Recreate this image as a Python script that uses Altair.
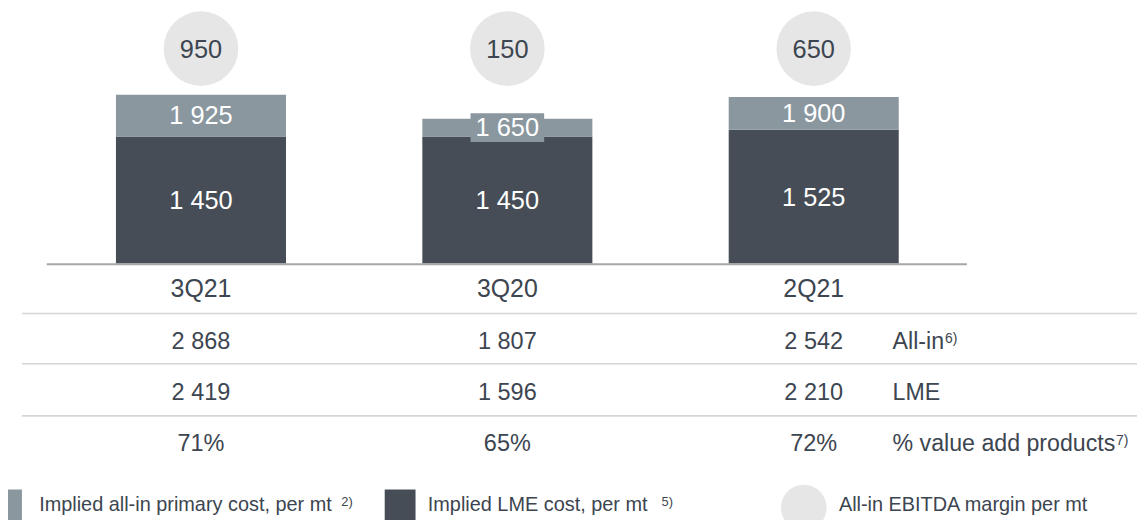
import altair as alt
import pandas as pd

# ---------------- data ----------------
categories = ["3Q21", "3Q20", "2Q21"]
lme_cost = [1450, 1450, 1525]          # Implied LME cost, per mt
allin_cost = [1925, 1650, 1900]        # Implied all-in primary cost, per mt
ebitda_margin = [950, 150, 650]        # All-in EBITDA margin per mt
allin_price = [2868, 1807, 2542]       # All-in
lme_price = [2419, 1596, 2210]         # LME
value_add_share = [71, 65, 72]         # % value add products
row_labels = ["All-in", "LME", "% value add products"]
row_notes = ["6)", "", "7)"]
legend_labels = ["Implied all-in primary cost, per mt",
                 "Implied LME cost, per mt",
                 "All-in EBITDA margin per mt"]
legend_notes = ["2)", "5)", ""]
unit_title = "USD/mt"

# ---------------- styles ----------------
DARK = "#464d56"
LIGHT = "#8a979f"
CIRCLE = "#e6e6e6"
TEXT = "#3c4550"
RULE = "#a6a6a6"
GRID = "#d6d6d6"
FONT = "Liberation Sans"


def fmt(v):
    return f"{v:,}".replace(",", " ")


df = pd.DataFrame({
    "cat": categories,
    "lme": lme_cost,
    "allin": allin_cost,
    "margin": ebitda_margin,
})
df["lme_lbl"] = [fmt(v) for v in lme_cost]
df["allin_lbl"] = [fmt(v) for v in allin_cost]
df["margin_lbl"] = [fmt(v) for v in ebitda_margin]
df["row0"] = [fmt(v) for v in allin_price]
df["row1"] = [fmt(v) for v in lme_price]
df["row2"] = [f"{v}%" for v in value_add_share]

X = alt.X("cat:N", sort=categories, axis=None,
          scale=alt.Scale(domain=categories, range=[40, 964],
                          paddingInner=0.445, paddingOuter=0.2225))
yscale = alt.Scale(domain=[0, 1450], range=[255.5, 127.7], nice=False, zero=True)

base = alt.Chart(df)
one = alt.Data(values=[{"k": 1}])

layers = []

# bars
layers.append(base.mark_bar(color=DARK).encode(
    x=X, y=alt.Y("lme:Q", scale=yscale, axis=None)))
layers.append(base.mark_bar(color=LIGHT).encode(
    x=X, y=alt.Y("lme:Q", scale=yscale, axis=None), y2="allin:Q"))

# label background boxes for the all-in cost labels
layers.append(base.transform_calculate(mid="(datum.lme + datum.allin) / 2").mark_point(
    shape="M-1,-0.392L1,-0.392L1,0.392L-1,0.392Z", size=5476, filled=True,
    fill=LIGHT, opacity=1, strokeWidth=0).encode(
    x=X, y=alt.Y("mid:Q", scale=yscale, axis=None)))

# bar labels
layers.append(base.transform_calculate(mid="(datum.lme + datum.allin) / 2").mark_text(
    font=FONT, fontSize=25.5, color="white", baseline="middle", dy=0.5).encode(
    x=X, y=alt.Y("mid:Q", scale=yscale, axis=None), text="allin_lbl:N"))
layers.append(base.transform_calculate(mid="datum.lme / 2").mark_text(
    font=FONT, fontSize=25.5, color="white", baseline="middle", dy=1).encode(
    x=X, y=alt.Y("mid:Q", scale=yscale, axis=None), text="lme_lbl:N"))

# baseline
layers.append(alt.Chart(one).mark_rule(color=RULE, strokeWidth=2).encode(
    x=alt.value(39), x2=alt.value(964), y=alt.value(256.3)))

# margin circles
layers.append(base.mark_circle(size=5625, color=CIRCLE, opacity=1).encode(
    x=X, y=alt.value(39.5)))
layers.append(base.mark_text(font=FONT, fontSize=25.5, color=TEXT, baseline="alphabetic").encode(
    x=X, y=alt.value(49.2), text="margin_lbl:N"))

# table separators
for yy in [305.7, 356.3, 408.7]:
    layers.append(alt.Chart(one).mark_rule(color=GRID, strokeWidth=1.6).encode(
        x=alt.value(14), x2=alt.value(1137), y=alt.value(yy)))

# table: period labels and rows
layers.append(base.mark_text(font=FONT, fontSize=25, color=TEXT, baseline="alphabetic").encode(
    x=X, y=alt.value(288.7), text="cat:N"))
row_y = [341.3, 392.5, 444.0]
for i, yy in enumerate(row_y):
    layers.append(base.mark_text(font=FONT, fontSize=23.6, color=TEXT, baseline="alphabetic").encode(
        x=X, y=alt.value(yy), text=f"row{i}:N"))
    layers.append(alt.Chart(alt.Data(values=[{"t": row_labels[i]}])).mark_text(
        font=FONT, fontSize=23.3, color=TEXT, baseline="alphabetic", align="left").encode(
        x=alt.value(889.3), y=alt.value(yy), text="t:N"))
note_x = [942, None, 1114]
for i, nx in enumerate(note_x):
    if row_notes[i]:
        layers.append(alt.Chart(alt.Data(values=[{"t": row_notes[i]}])).mark_text(
            font=FONT, fontSize=14, color=TEXT, baseline="alphabetic", align="left").encode(
            x=alt.value(nx), y=alt.value(row_y[i] - 6.3), text="t:N"))

# legend
layers.append(alt.Chart(one).mark_rect(color=LIGHT).encode(
    x=alt.value(-3), x2=alt.value(14), y=alt.value(482.7), y2=alt.value(514)))
layers.append(alt.Chart(one).mark_rect(color=DARK).encode(
    x=alt.value(378.7), x2=alt.value(409.7), y=alt.value(482.7), y2=alt.value(514)))
layers.append(alt.Chart(one).mark_circle(size=2116, color=CIRCLE, opacity=1).encode(
    x=alt.value(800), y=alt.value(501)))
leg_x = [31.3, 422, 835.3]
leg_note_x = [335, 657, None]
for i in range(3):
    layers.append(alt.Chart(alt.Data(values=[{"t": legend_labels[i]}])).mark_text(
        font=FONT, fontSize=20, color=TEXT, baseline="alphabetic", align="left").encode(
        x=alt.value(leg_x[i]), y=alt.value(504.7), text="t:N"))
    if legend_notes[i]:
        layers.append(alt.Chart(alt.Data(values=[{"t": legend_notes[i]}])).mark_text(
            font=FONT, fontSize=13, color=TEXT, baseline="alphabetic", align="left").encode(
            x=alt.value(leg_note_x[i]), y=alt.value(499), text="t:N"))

# unit title (cut off at the top in the original)
layers.append(alt.Chart(alt.Data(values=[{"t": unit_title}])).mark_text(
    font=FONT, fontSize=22, color=TEXT, baseline="alphabetic", align="left").encode(
    x=alt.value(42), y=alt.value(-4.5), text="t:N"))

chart = alt.layer(*layers).properties(
    width=1135, height=512,
    autosize=alt.AutoSizeParams(type="none"),
    padding=0,
).configure_view(stroke=None)

chart.save("out.html", embed_options={"renderer": "svg", "actions": False})
